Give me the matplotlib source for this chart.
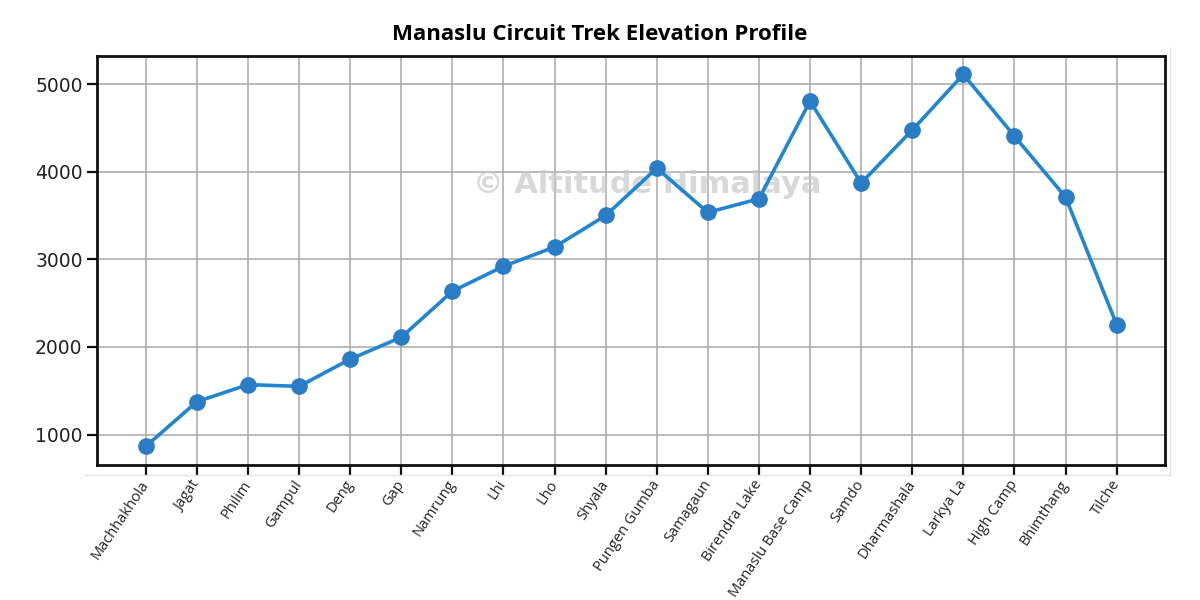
import matplotlib
matplotlib.use("Agg")
import matplotlib.pyplot as plt
from matplotlib.lines import Line2D

places = ["Machhakhola", "Jagat", "Philim", "Gampul", "Deng", "Gap", "Namrung",
          "Lhi", "Lho", "Shyala", "Pungen Gumba", "Samagaun", "Birendra Lake",
          "Manaslu Base Camp", "Samdo", "Dharmashala", "Larkya La", "High Camp",
          "Bhimthang", "Tilche"]
elevation = [865, 1375, 1570, 1550, 1860, 2110, 2635, 2920, 3140, 3500,
             4040, 3535, 3690, 4805, 3870, 4475, 5110, 4405, 3710, 2255]
yticks = [1000, 2000, 3000, 4000, 5000]

LINE = "#2185d0"
MARK = "#2a7cc4"

fig = plt.figure(figsize=(12, 6), dpi=100)
ax = fig.add_axes([0.081, 0.225, 0.890, 0.682])

x = list(range(len(places)))
ax.plot(x, elevation, color=LINE, lw=2.6, marker="o", ms=11,
        markerfacecolor=MARK, markeredgecolor=MARK, zorder=3)

ax.grid(True, color="#a8a8a8", lw=1.1)
ax.set_axisbelow(True)
ax.set_xticks(x)
ax.set_xticklabels(places, rotation=56, ha="right", va="center",
                   rotation_mode="anchor", fontsize=10.5, family="Open Sans",
                   color="#222222")
ax.set_yticks(yticks)
ax.set_yticklabels([str(v) for v in yticks], fontsize=13.5, color="#222222")
ax.tick_params(axis="both", length=7, width=1.6, color="#111111")
ax.tick_params(axis="x", pad=5)
for s in ax.spines.values():
    s.set_linewidth(2)
    s.set_color("#111111")

fig.text(0.5, 0.942, "Manaslu Circuit Trek Elevation Profile", fontsize=16,
         fontweight="bold", family="Open Sans", ha="center", va="center")

# watermark
ax.text(0.515, 0.685, "\u00a9 Altitude Himalaya", transform=ax.transAxes,
        ha="center", va="center", fontsize=22, fontweight="bold",
        color="#c8c8c8", alpha=0.7, zorder=2)

# faint frame of the pasted image
fig.add_artist(Line2D([0.071, 0.975], [0.208, 0.208], color="#e4e4e4", lw=1))
fig.add_artist(Line2D([0.975, 0.975], [0.208, 0.92], color="#e4e4e4", lw=1))

fig.savefig("out.png", dpi=100, facecolor="white")
